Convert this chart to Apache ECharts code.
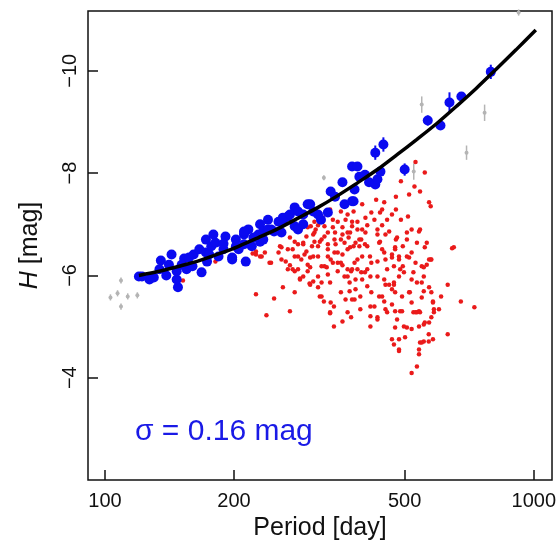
<!DOCTYPE html>
<html>
<head>
<meta charset="utf-8">
<script src="https://cdn.jsdelivr.net/npm/echarts@6/dist/echarts.min.js"></script>
<style>
  html, body { margin: 0; padding: 0; background: #fff; }
  #chart { width: 559px; height: 547px; }
</style>
</head>
<body>
<div id="chart"></div>
<script>
// period [day], H [mag]
var redPoints = [
  [225,-5.63],[238,-5.22],[248,-5.55],[270,-5.30],[260,-5.77],[277,-5.67],[285,-5.94],[300,-5.84],[317,-5.59],[324,-5.49],
  [342,-5.39],[335,-5.26],[342,-5.00],[358,-5.10],[375,-5.18],[364,-5.53],[372,-5.69],[384,-5.92],[314,-5.98],[306,-5.88],
  [320,-5.86],[329,-6.16],[349,-6.08],[358,-6.20],[340,-6.25],[277,-6.08],[270,-6.20],[264,-6.27],[242,-6.25],[254,-6.45],
  [258,-6.55],[236,-6.45],[225,-6.41],[230,-6.37],[221,-6.43],[282,-6.61],[292,-6.41],[301,-6.35],[297,-6.21],[290,-5.98],
  [331,-6.51],[343,-6.45],[358,-6.41],[373,-6.55],[377,-6.12],[368,-5.98],[388,-6.31],[314,-6.57],[308,-6.66],[362,-6.64],
  [308,-7.05],[297,-6.94],[310,-6.90],[331,-6.84],[349,-7.05],[364,-7.09],[380,-7.25],[377,-7.05],[335,-7.29],[355,-7.25],
  [325,-6.96],[295,-6.76],[317,-6.66],[331,-6.61],[343,-6.70],[358,-6.80],[373,-6.84],[304,-6.57],[290,-6.61],[277,-6.66],
  [270,-6.74],[267,-6.51],[258,-6.31],[244,-6.25],[277,-6.37],[287,-6.31],[314,-6.37],[331,-6.37],[349,-6.45],[368,-6.51],
  [380,-6.57],[349,-6.25],[325,-6.18],[301,-6.16],[368,-6.12],[282,-6.12],[267,-6.12],[232,-6.37],[225,-6.47],[256,-6.57],
  [274,-6.51],[295,-6.47],
  [530,-8.22],[557,-8.01],[490,-7.84],[527,-7.74],[570,-7.43],[543,-7.64],[512,-7.58],[477,-7.54],[429,-7.48],[448,-7.43],
  [477,-7.29],[438,-7.23],[418,-7.23],[405,-7.13],[425,-7.09],[455,-7.09],[490,-7.09],[509,-7.15],[506,-6.84],[543,-6.90],
  [534,-6.64],[557,-6.55],[651,-6.55],[570,-6.31],[495,-6.57],[475,-6.55],[477,-6.70],[451,-6.80],[438,-6.66],[448,-6.45],
  [467,-6.35],[485,-6.37],[495,-6.18],[472,-6.18],[455,-6.12],[432,-6.27],[415,-6.37],[409,-6.57],[396,-6.70],[388,-6.90],
  [377,-6.96],[388,-7.05],[405,-6.84],[368,-6.84],[355,-6.70],[344,-6.84],[320,-6.70],[308,-6.84],[302,-6.96],[355,-6.25],
  [409,-6.12],[396,-6.06],[375,-6.08],[336,-6.31],[320,-6.18],[306,-6.37],[290,-6.64],[282,-6.37],[274,-6.12],[297,-6.08],
  [331,-6.02],[362,-5.98],[512,-6.35],[524,-6.06],[548,-6.18],[432,-5.98],[485,-5.98],[554,-5.98],
  [285,-5.92],[301,-5.82],[314,-5.77],[320,-5.59],[335,-5.86],[336,-5.47],[335,-5.28],[355,-5.67],[368,-5.28],[372,-5.86],
  [384,-5.73],[394,-5.34],[398,-5.92],[409,-5.79],[416,-5.20],[416,-5.00],[425,-5.39],[432,-5.14],[436,-5.59],[448,-5.92],
  [448,-5.49],[455,-5.28],[460,-5.82],[467,-5.43],[472,-5.82],[475,-5.67],[475,-4.98],[467,-4.75],[472,-4.65],[485,-4.55],
  [480,-5.14],[488,-5.30],[498,-5.00],[493,-5.59],[506,-4.98],[514,-5.67],[524,-5.28],[519,-4.95],[534,-5.28],[543,-5.28],
  [554,-5.04],[548,-5.57],[543,-4.69],[540,-4.55],[540,-4.46],[554,-4.71],[569,-4.71],[570,-5.08],[582,-4.75],[585,-5.28],
  [582,-5.49],[570,-5.77],[554,-5.69],[534,-5.86],[601,-5.34],[608,-5.59],[630,-4.85],[630,-5.82],[676,-5.49],[727,-5.38],
  [534,-4.22],[519,-4.09],[485,-4.75],[394,-5.59],[416,-5.98],[382,-5.53],
  [645,-6.53],[563,-6.64],[575,-6.31],[540,-6.86],[152,-5.90],[181,-6.27],[575,-7.35],
  [384,-6.64],[392,-6.57],[404,-6.61],[398,-6.37],[382,-6.25],[388,-6.12],[404,-6.06],[418,-6.25],[432,-6.80],[436,-6.64],
  [443,-6.51],[451,-6.31],[467,-6.41],[475,-6.51],[485,-6.31],[488,-6.12],[498,-6.06],[472,-5.86],[467,-5.73],[451,-5.82],
  [443,-5.59],[418,-5.67],[416,-5.39],[377,-5.53],[432,-5.18],[451,-5.34],[475,-5.30],[493,-5.30],[512,-5.67],[519,-5.47],
  [530,-5.28],[540,-5.30],[548,-5.86],[519,-5.92],[530,-6.25],[506,-6.37],[519,-6.45],[554,-6.16],[563,-6.21],[577,-6.31],
  [577,-5.67],[582,-5.47],[585,-5.34],[577,-5.18],[557,-5.08],[540,-5.00],[501,-4.79],[485,-4.52],[548,-4.69],[569,-4.85],
  [314,-6.98],[322,-7.13],[340,-6.94],[358,-6.94],[370,-6.74],[325,-6.76],[306,-6.80],[345,-6.61],[392,-6.70],[398,-6.90],
  [409,-6.98],[432,-6.90],[443,-6.98],[460,-6.86],[480,-6.74],[506,-6.70],[519,-6.90],[467,-7.19],[443,-7.29],[398,-7.39],
  [368,-7.19],[340,-7.09]
]

// period, H, error
var bluePoints = [
  [120,-5.98,0],[127,-5.92,0],[135,-6.29,0],[143,-6.41,0],[141,-6.21,0],[139,-6.00,0],[148,-5.77,0],[147,-5.92,0],
  [153,-6.33,0],[155,-6.12,0],[161,-6.41,0],[166,-6.51,0],[172,-6.70,0],[172,-6.45,0],[177,-6.57,0],[181,-6.64,0],
  [191,-6.76,0],[198,-6.35,0],[168,-6.06,0],[160,-6.18,0],[202,-6.57,0],[184,-6.37,0],[147,-6.08,0],[122,-5.98,0],
  [130,-5.96,0],[198,-6.31,0],[202,-6.70,0],[213,-6.27,0],[216,-6.90,0],[230,-6.66,0],[240,-7.09,0],[254,-7.05,0],
  [258,-6.84,0],[277,-7.33,0],[277,-6.96,0],[297,-7.39,0],[319,-7.09,0],[331,-7.23,0],[336,-7.64,0],[358,-7.82,0],
  [362,-7.39,0],[377,-7.45,0],[377,-8.13,0],[228,-6.80,0],[244,-6.90,0],[205,-6.51,0],[220,-6.57,0],[267,-7.15,0],
  [282,-6.90,0],[306,-7.25,0],[344,-7.54,0],[388,-8.13,0],[392,-7.93,0],[382,-7.68,0],[413,-7.82,0],[427,-7.78,0],
  [432,-7.88,0],[439,-8.03,0],[427,-8.40,0.14],[446,-8.56,0.14],[500,-8.07,0.12],[566,-9.03,0.10],[606,-8.93,0],
  [636,-9.38,0.20],[678,-9.50,0],[794,-9.98,0.14],[380,-7.45,0],[404,-7.97,0],
  [179,-6.80,0],[189,-6.51,0],[211,-6.61,0],[234,-6.70,0],[248,-6.86,0],[260,-7.05,0],[230,-7.00,0],[290,-7.19,0],
  [301,-7.39,0],[314,-7.19,0],[151,-6.21,0],[173,-6.27,0],[211,-6.80,0],
  [211,-6.86,0],[222,-6.74,0],[234,-6.86,0],[240,-6.90,0],[260,-7.13,0],[270,-7.19,0],[282,-7.25,0],[290,-7.00,0],
  [157,-6.35,0],[175,-6.41,0],[189,-6.62,0],[134,-6.12,0]
]

var grayPoints = [
  [109,-5.90,0.06],[103,-5.57,0.06],[107,-5.65,0.06],[113,-5.59,0.06],[119,-5.61,0.06],[109,-5.39,0.06],
  [324,-7.91,0.05],[548,-9.34,0.16],[768,-9.18,0.16],[697,-8.40,0.14],[525,-8.03,0.16],[922,-11.14,0.06]
]

// fitted P-L relation
var fitCurve = [
  [120,-6.00],[134,-6.08],[149,-6.18],[166,-6.29],[184,-6.42],[205,-6.57],[228,-6.74],
  [254,-6.92],[282,-7.12],[314,-7.33],[349,-7.56],[388,-7.81],[432,-8.07],[480,-8.36],
  [534,-8.66],[594,-8.97],[661,-9.31],[735,-9.66],[817,-10.03],[909,-10.41],[1011,-10.80]
]

var xTicks = [100, 200, 500, 1000]
var yTicks = [-10, -8, -6, -4]

var font = 'Liberation Sans, Arial, Helvetica, sans-serif'
var lg = function(p){ return Math.log10(p) }
var toXY = function(d){ return [lg(d[0]), d[1]] }

var errBars = function(data, color, width){
  return {
    type: 'custom',
    silent: true,
    data: data.filter(function(d){ return d[2] > 0 }).map(function(d){ return [lg(d[0]), d[1], d[2]] }),
    encode: {x: 0, y: 1},
    renderItem: function(params, api){
      var x = api.value(0), y = api.value(1), e = api.value(2)
      var a = api.coord([x, y - e]), b = api.coord([x, y + e])
      return {type: 'line', shape: {x1: a[0], y1: a[1], x2: b[0], y2: b[1]},
        style: {stroke: color, lineWidth: width}}
    }
  }
}

var chart = echarts.init(document.getElementById('chart'))
var option = {
  animation: false,
  textStyle: {fontFamily: font},
  grid: {left: 88, right: 2, top: 11, bottom: 67, show: true, borderColor: '#111', borderWidth: 1.5},
  xAxis: {
    type: 'value',
    min: lg(91.3), max: lg(1103),
    axisLine: {show: false, onZero: false},
    splitLine: {show: false},
    axisTick: {inside: true, length: 10, lineStyle: {color: '#111', width: 1.5}, customValues: xTicks.map(lg)},
    axisLabel: {customValues: xTicks.map(lg), formatter: function(v){ return String(Math.round(Math.pow(10, v))) },
      fontSize: 20, color: '#111', margin: 11, fontFamily: font},
    name: 'Period [day]', nameLocation: 'middle', nameGap: 30,
    nameTextStyle: {fontSize: 25, color: '#111', fontFamily: font}
  },
  yAxis: {
    type: 'value',
    inverse: true,
    min: -11.17, max: -2.0,
    axisLine: {show: false, onZero: false},
    splitLine: {show: false},
    axisTick: {inside: true, length: 10, lineStyle: {color: '#111', width: 1.5}, customValues: yTicks},
    axisLabel: {customValues: yTicks, rotate: 90, formatter: function(v){ return '\u2212' + Math.abs(v) },
      fontSize: 20, color: '#111', margin: 8, fontFamily: font},
    name: '{i|H} [mag]', nameLocation: 'middle', nameGap: 45,
    nameTextStyle: {fontSize: 25, color: '#111', fontFamily: font,
      rich: {i: {fontStyle: 'italic', fontSize: 25, color: '#111', fontFamily: font}}}
  },
  graphic: [{
    type: 'text', x: 135, y: 432,
    style: {text: '\u03c3 = 0.16 mag', fontSize: 30, fontFamily: font, fill: '#1a1ae6', verticalAlign: 'middle'}
  }],
  series: [
    {type: 'scatter', data: redPoints.map(toXY), symbolSize: 4.5, itemStyle: {color: '#ea1a1a', opacity: 1}},
    errBars(grayPoints, '#b4b4b4', 1.5),
    {type: 'scatter', data: grayPoints.map(toXY), symbolSize: 4, itemStyle: {color: '#b4b4b4', opacity: 1}},
    errBars(bluePoints, '#0a0af0', 2),
    {type: 'scatter', data: bluePoints.map(toXY), symbolSize: 10, itemStyle: {color: '#0a0af0', opacity: 1}},
    {type: 'line', data: fitCurve.map(toXY), smooth: 0.3, showSymbol: false,
      lineStyle: {color: '#000', width: 3.5}, z: 5}
  ]
}
chart.setOption(option)
</script>
</body>
</html>
